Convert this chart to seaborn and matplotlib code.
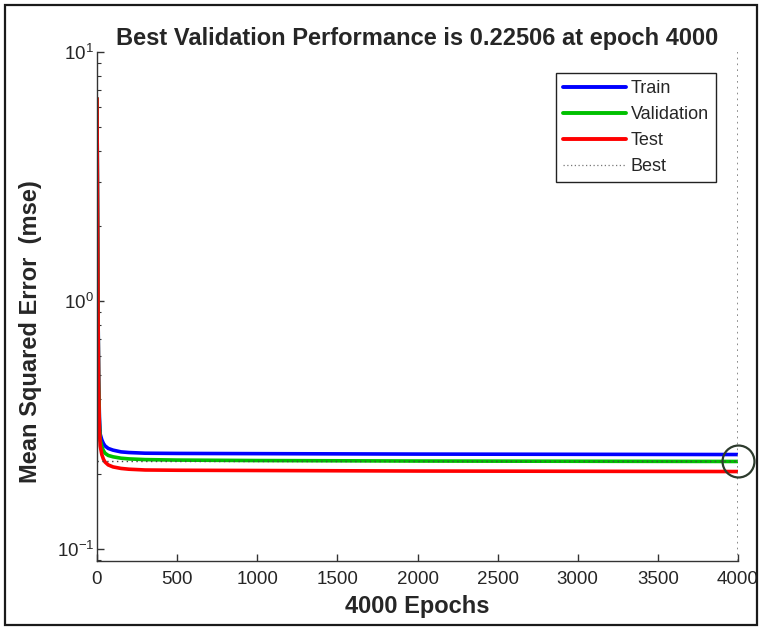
import matplotlib
matplotlib.use("Agg")
import matplotlib.pyplot as plt
from matplotlib.patches import Rectangle
from matplotlib.ticker import LogLocator, NullFormatter
import numpy as np
import pandas as pd
import seaborn as sns

# Training record sampled at selected epochs
epochs = [0, 3, 6, 10, 15, 20, 30, 40, 50, 70, 100, 150, 200, 300, 500, 1000, 2000, 3000, 4000]
train_mse = [6.5, 2.5, 1.0, 0.50, 0.34, 0.29, 0.275, 0.266, 0.260, 0.254, 0.250, 0.246, 0.2445, 0.243, 0.2425, 0.242, 0.241, 0.2405, 0.240]
val_mse = [6.5, 2.5, 1.0, 0.48, 0.32, 0.275, 0.258, 0.249, 0.243, 0.238, 0.235, 0.232, 0.2305, 0.229, 0.228, 0.227, 0.226, 0.2255, 0.22506]
test_mse = [6.5, 2.4, 0.95, 0.45, 0.30, 0.260, 0.240, 0.230, 0.224, 0.218, 0.214, 0.211, 0.2095, 0.208, 0.2075, 0.207, 0.206, 0.2055, 0.205]

best_epoch = 4000
best_perf = 0.22506

series_names = ["Train", "Validation", "Test"]
series_colors = ["#0000ff", "#00c000", "#ff0000"]

df = pd.DataFrame({
    "Epoch": epochs * 3,
    "MSE": train_mse + val_mse + test_mse,
    "Set": sum([[n] * len(epochs) for n in series_names], []),
})

sns.set_style("white")
plt.rcParams["font.family"] = ["Liberation Sans", "DejaVu Sans"]
plt.rcParams["mathtext.fontset"] = "custom"
plt.rcParams["mathtext.rm"] = "Liberation Sans"
plt.rcParams["mathtext.it"] = "Liberation Sans:italic"
plt.rcParams["mathtext.bf"] = "Liberation Sans:bold"

fig = plt.figure(figsize=(7.6, 6.28), dpi=100)
ax = fig.add_axes([97 / 760, 1 - 561 / 628, 641 / 760, 509 / 628])

sns.lineplot(data=df, x="Epoch", y="MSE", hue="Set", hue_order=series_names,
             palette=series_colors, linewidth=2.6, ax=ax, legend=False)

ax.set_yscale("log")
ax.set_xlim(0, 4000)
ax.set_ylim(0.0895, 10)

# best-epoch markers
ax.axhline(best_perf, color="#444444", linestyle=(0, (1, 2.5)), linewidth=1.0, zorder=4)
ax.axvline(best_epoch, color="#777777", linestyle=(0, (1, 2.5)), linewidth=1.2, zorder=4)
ax.plot([best_epoch], [best_perf], marker="o", markersize=23, markerfacecolor="none",
        markeredgecolor="#2d3b2d", markeredgewidth=1.6, clip_on=False, zorder=5)

# axes styling
for side in ["top", "right"]:
    ax.spines[side].set_visible(False)
for side in ["left", "bottom"]:
    ax.spines[side].set_color("#333333")
    ax.spines[side].set_linewidth(1.0)

ax.set_xticks(np.arange(0, 4001, 500))
ax.yaxis.set_major_locator(LogLocator(base=10, numticks=10))
ax.yaxis.set_minor_locator(LogLocator(base=10, subs=np.arange(2, 10) * 1.0, numticks=20))
ax.yaxis.set_minor_formatter(NullFormatter())
ax.tick_params(axis="both", which="major", direction="in", length=5, width=1,
               color="#333333", labelsize=13.5, labelcolor="#262626", pad=7)
ax.tick_params(axis="y", which="major", pad=2)
ax.tick_params(axis="y", which="minor", direction="in", length=3, width=0.8,
               color="#333333", left=True)
ax.tick_params(axis="y", which="major", left=True)
ax.tick_params(axis="x", which="major", bottom=True)

ax.set_title("Best Validation Performance is 0.22506 at epoch 4000",
             fontsize=17, fontweight="bold", pad=5)
ax.set_xlabel("4000 Epochs", fontsize=17, fontweight="bold", labelpad=5)
ax.set_ylabel("Mean Squared Error  (mse)", fontsize=17, fontweight="bold")
ax.yaxis.set_label_coords(-0.086, 0.45)

handles = [plt.Line2D([], [], color=c, linewidth=2.8) for c in series_colors]
handles.append(plt.Line2D([], [], color="#777777", linestyle=(0, (1, 2)), linewidth=0.9))
leg = ax.legend(handles, series_names + ["Best"], loc="upper left",
                bbox_to_anchor=(0.716, 0.959), fontsize=13, frameon=True,
                fancybox=False, edgecolor="#222222", framealpha=1,
                handlelength=3.5, handletextpad=0.25, labelspacing=0.5,
                borderpad=0.4, borderaxespad=0)
leg.get_frame().set_linewidth(1.0)

# outer frame of the figure
fig.patches.append(Rectangle((5 / 760, 3 / 628), 752 / 760, 620 / 628,
                             transform=fig.transFigure, fill=False,
                             edgecolor="#1a1a1a", linewidth=1.6))

fig.savefig("out.png", dpi=100)
